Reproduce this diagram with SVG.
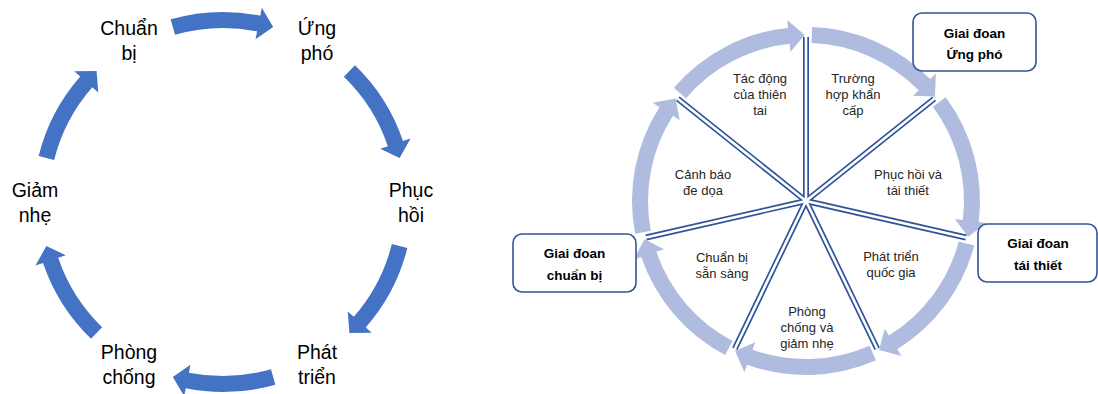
<svg xmlns="http://www.w3.org/2000/svg" xmlns:xlink="http://www.w3.org/1999/xlink" width="1098" height="394" viewBox="0 0 1098 394">
  <style>
    .lbl { font-family: "Liberation Sans", Arial, sans-serif; font-size: 19.5px; fill: #000; text-anchor: middle; }
    .wl { font-family: "Liberation Sans", Arial, sans-serif; font-size: 13px; fill: #262626; text-anchor: middle; }
    .bl { font-family: "Liberation Sans", Arial, sans-serif; font-size: 13.5px; font-weight: bold; fill: #000; text-anchor: middle; }
    .larr { fill: #4472C4; }
    .rarr { fill: #AFBCE0; }
    .spokeO { stroke: #2F5597; stroke-width: 6; }
    .spokeI { stroke: #FFFFFF; stroke-width: 2.6; }
    .box { fill: #FFFFFF; stroke: #2F5597; stroke-width: 1.6; }
  </style>
  <defs>
    <path id="leftArrow" d="M-52.37,-182.64 A190 190 0 0 1 37.23,-186.32 L38.80,-194.16 L50.17,-174.95 L32.53,-162.78 L34.10,-170.63 A174 174 0 0 0 -47.96,-167.26 Z"/>
    <path id="ringArrow" d="M6.07,-173.90 A174 174 0 0 1 124.11,-121.96 L129.82,-127.56 L129.00,-104.46 L107.00,-105.14 L112.70,-110.74 A158 158 0 0 0 5.51,-157.91 Z"/>
    <line id="spoke" x1="0" y1="0" x2="0" y2="-164"/>
  </defs>
  <rect width="1098" height="394" fill="#FFFFFF"/>

  <!-- LEFT DIAGRAM -->
  <g id="left-connectors" class="larr" transform="translate(223,202)">
    <use xlink:href="#leftArrow" href="#leftArrow"/>
    <use xlink:href="#leftArrow" href="#leftArrow" transform="rotate(60)"/>
    <use xlink:href="#leftArrow" href="#leftArrow" transform="rotate(120)"/>
    <use xlink:href="#leftArrow" href="#leftArrow" transform="rotate(180)"/>
    <use xlink:href="#leftArrow" href="#leftArrow" transform="rotate(240)"/>
    <use xlink:href="#leftArrow" href="#leftArrow" transform="rotate(300)"/>
  </g>
  <g id="node-chuan-bi"><text class="lbl" x="129" y="35">Chuẩn</text><text class="lbl" x="129" y="60">bị</text></g>
  <g id="node-ung-pho"><text class="lbl" x="317" y="35">Ứng</text><text class="lbl" x="317" y="60">phó</text></g>
  <g id="node-phuc-hoi"><text class="lbl" x="411" y="197">Phục</text><text class="lbl" x="411" y="222">hồi</text></g>
  <g id="node-phat-trien"><text class="lbl" x="317" y="359">Phát</text><text class="lbl" x="317" y="384">triển</text></g>
  <g id="node-phong-chong"><text class="lbl" x="129" y="359">Phòng</text><text class="lbl" x="129" y="384">chống</text></g>
  <g id="node-giam-nhe"><text class="lbl" x="35" y="197">Giảm</text><text class="lbl" x="35" y="222">nhẹ</text></g>

  <!-- RIGHT DIAGRAM -->
  <g id="right-connectors">
    <g id="ring" class="rarr" transform="translate(806,201)">
      <use xlink:href="#ringArrow" href="#ringArrow"/>
      <use xlink:href="#ringArrow" href="#ringArrow" transform="rotate(51.4286)"/>
      <use xlink:href="#ringArrow" href="#ringArrow" transform="rotate(102.8571)"/>
      <use xlink:href="#ringArrow" href="#ringArrow" transform="rotate(154.2857)"/>
      <use xlink:href="#ringArrow" href="#ringArrow" transform="rotate(205.7143)"/>
      <use xlink:href="#ringArrow" href="#ringArrow" transform="rotate(257.1429)"/>
      <use xlink:href="#ringArrow" href="#ringArrow" transform="rotate(308.5714)"/>
    </g>
    <g id="spokes" transform="translate(806,201)">
      <g class="spokeO">
        <use xlink:href="#spoke" href="#spoke"/>
        <use xlink:href="#spoke" href="#spoke" transform="rotate(51.4286)"/>
        <use xlink:href="#spoke" href="#spoke" transform="rotate(102.8571)"/>
        <use xlink:href="#spoke" href="#spoke" transform="rotate(154.2857)"/>
        <use xlink:href="#spoke" href="#spoke" transform="rotate(205.7143)"/>
        <use xlink:href="#spoke" href="#spoke" transform="rotate(257.1429)"/>
        <use xlink:href="#spoke" href="#spoke" transform="rotate(308.5714)"/>
      </g>
      <g class="spokeI">
        <use xlink:href="#spoke" href="#spoke"/>
        <use xlink:href="#spoke" href="#spoke" transform="rotate(51.4286)"/>
        <use xlink:href="#spoke" href="#spoke" transform="rotate(102.8571)"/>
        <use xlink:href="#spoke" href="#spoke" transform="rotate(154.2857)"/>
        <use xlink:href="#spoke" href="#spoke" transform="rotate(205.7143)"/>
        <use xlink:href="#spoke" href="#spoke" transform="rotate(257.1429)"/>
        <use xlink:href="#spoke" href="#spoke" transform="rotate(308.5714)"/>
      </g>
    </g>
  </g>

  <g id="wedge-tac-dong"><text class="wl" x="760" y="83">Tác động</text><text class="wl" x="760" y="99">của thiên</text><text class="wl" x="760" y="115">tai</text></g>
  <g id="wedge-truong-hop"><text class="wl" x="853" y="83">Trường</text><text class="wl" x="853" y="99">hợp khẩn</text><text class="wl" x="853" y="115">cấp</text></g>
  <g id="wedge-phuc-hoi"><text class="wl" x="908" y="179">Phục hồi và</text><text class="wl" x="908" y="195">tái thiết</text></g>
  <g id="wedge-phat-trien"><text class="wl" x="891" y="261">Phát triển</text><text class="wl" x="891" y="277">quốc gia</text></g>
  <g id="wedge-phong-chong"><text class="wl" x="807" y="316">Phòng</text><text class="wl" x="807" y="332">chống và</text><text class="wl" x="807" y="348">giảm nhẹ</text></g>
  <g id="wedge-chuan-bi"><text class="wl" x="722" y="262">Chuẩn bị</text><text class="wl" x="722" y="278">sẵn sàng</text></g>
  <g id="wedge-canh-bao"><text class="wl" x="703" y="179">Cảnh báo</text><text class="wl" x="703" y="195">đe dọa</text></g>

  <g id="box-ung-pho"><rect class="box" x="913" y="13" width="123" height="58" rx="9"/><text class="bl" x="974.5" y="37.5">Giai đoan</text><text class="bl" x="974.5" y="58.5">Ứng phó</text></g>
  <g id="box-tai-thiet"><rect class="box" x="978" y="224" width="119" height="58" rx="9"/><text class="bl" x="1038" y="248">Giai đoan</text><text class="bl" x="1038" y="269.5">tái thiết</text></g>
  <g id="box-chuan-bi"><rect class="box" x="513" y="234" width="123" height="58" rx="9"/><text class="bl" x="574.5" y="258">Giai đoan</text><text class="bl" x="574.5" y="280">chuẩn bị</text></g>
</svg>
